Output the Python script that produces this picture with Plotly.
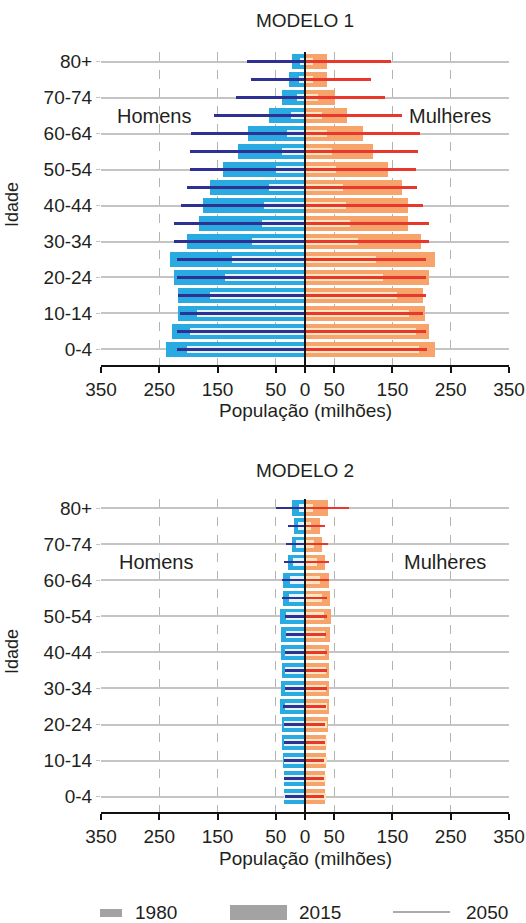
import plotly.graph_objects as go

ages = ["0-4", "5-9", "10-14", "15-19", "20-24", "25-29", "30-34", "35-39", "40-44",
        "45-49", "50-54", "55-59", "60-64", "65-69", "70-74", "75-79", "80+"]
tick_ages = ["0-4", "10-14", "20-24", "30-34", "40-44", "50-54", "60-64", "70-74", "80+"]
x_ticks = [-350, -250, -150, -50, 0, 50, 150, 250, 350]
x_ticktext = ["350", "250", "150", "50", "0", "50", "150", "250", "350"]

# MODELO 1 (values in millions, from 0-4 up to 80+)
m1_men_1980 = [203, 197, 186, 163, 137, 125, 91, 74, 70, 62, 50, 40, 31, 24, 14, 10, 8]
m1_men_2015 = [238, 229, 218, 218, 224, 231, 203, 182, 175, 163, 140, 115, 97, 62, 40, 27, 22]
m1_men_2050 = [219, 219, 215, 218, 219, 220, 224, 225, 213, 202, 197, 197, 195, 156, 118, 93, 100]
m1_wom_1980 = [195, 190, 179, 158, 133, 122, 91, 78, 71, 65, 53, 46, 38, 30, 22, 13, 13]
m1_wom_2015 = [223, 212, 206, 203, 212, 223, 199, 177, 177, 166, 143, 117, 99, 72, 51, 38, 38]
m1_wom_2050 = [209, 207, 203, 207, 207, 207, 212, 212, 203, 193, 190, 194, 197, 166, 137, 113, 147]

# MODELO 2
m2_men_1980 = [36, 36, 36, 36, 36, 35, 35, 34, 34, 33, 32, 28, 25, 20, 15, 12, 10]
m2_men_2015 = [36, 36, 37, 39, 40, 43, 42, 40, 42, 42, 43, 38, 38, 30, 23, 19, 22]
m2_men_2050 = [35, 36, 36, 36, 36, 37, 35, 34, 34, 33, 34, 39, 40, 36, 33, 29, 49]
m2_wom_1980 = [36, 36, 37, 37, 37, 37, 36, 36, 35, 34, 33, 30, 26, 21, 16, 10, 13]
m2_wom_2015 = [34, 35, 36, 36, 39, 41, 42, 41, 42, 43, 45, 43, 42, 35, 29, 26, 39]
m2_wom_2050 = [33, 33, 33, 34, 35, 36, 38, 37, 37, 36, 37, 37, 41, 41, 39, 35, 76]

FONT = "Liberation Sans, Arial, sans-serif"
TXT = "#231f20"
C_MEN = {"1980": "#e2f4fc", "2015": "#29abe2", "2050": "#2e3192"}
C_WOM = {"1980": "#fde5bd", "2015": "#f7a36c", "2050": "#e8372c"}
WID = {"1980": 0.42, "2015": 0.84, "2050": 0.14}

ypos = list(range(len(ages)))
fig = go.Figure()

def add_model(men, wom, xa, ya):
    for year in ["2015", "1980", "2050"]:
        fig.add_trace(go.Bar(
            y=ypos, x=[-v for v in men[year]], orientation="h", width=WID[year],
            marker=dict(color=C_MEN[year], line=dict(width=0)),
            xaxis=xa, yaxis=ya, showlegend=False, hoverinfo="skip"))
        fig.add_trace(go.Bar(
            y=ypos, x=wom[year], orientation="h", width=WID[year],
            marker=dict(color=C_WOM[year], line=dict(width=0)),
            xaxis=xa, yaxis=ya, showlegend=False, hoverinfo="skip"))

add_model({"1980": m1_men_1980, "2015": m1_men_2015, "2050": m1_men_2050},
          {"1980": m1_wom_1980, "2015": m1_wom_2015, "2050": m1_wom_2050}, "x", "y")
add_model({"1980": m2_men_1980, "2015": m2_men_2015, "2050": m2_men_2050},
          {"1980": m2_wom_1980, "2015": m2_wom_2015, "2050": m2_wom_2050}, "x2", "y2")

xaxis_common = dict(
    range=[-350, 350], tickvals=x_ticks, ticktext=x_ticktext, automargin=False,
    showgrid=True, gridcolor="#b4b4b4", griddash="dash", gridwidth=1,
    zeroline=False, showline=True, linecolor="#111", linewidth=2,
    ticks="outside", ticklen=6, tickwidth=1.5, tickcolor="#111",
    tickfont=dict(family=FONT, size=19, color=TXT), fixedrange=True)
yaxis_common = dict(
    tickvals=[ages.index(a) for a in tick_ages], ticktext=tick_ages, automargin=False,
    showgrid=True, gridcolor="#c4c4c4", gridwidth=1.5, zeroline=False,
    showline=False, ticks="outside", ticklen=4, tickcolor="#c4c4c4",
    tickfont=dict(family=FONT, size=19, color=TXT), fixedrange=True)

fig.update_layout(
    width=526, height=923, autosize=False, paper_bgcolor="white", plot_bgcolor="white",
    margin=dict(l=101, r=17, t=52, b=111),
    barmode="overlay", bargap=0,
    xaxis=dict(domain=[0, 1], anchor="y", **xaxis_common),
    yaxis=dict(domain=[0.588, 1.0], anchor="x", range=[-0.873, 16.54], **yaxis_common),
    xaxis2=dict(domain=[0, 1], anchor="y2", **xaxis_common),
    yaxis2=dict(domain=[0.0, 0.4118], anchor="x2", range=[-0.85, 16.5], **yaxis_common),
    font=dict(family=FONT, color=TXT),
)

# zero lines above bars
for xr, yr in [("x", "y domain"), ("x2", "y2 domain")]:
    fig.add_shape(type="line", xref=xr, yref=yr, x0=0, x1=0, y0=0, y1=1,
                  line=dict(color="#111", width=2), layer="above")

ann = []
def text(x, y, s, size=19, xref="paper", yref="paper", **kw):
    ann.append(dict(x=x, y=y, xref=xref, yref=yref, text=s, showarrow=False,
                    xanchor="center", yanchor="middle",
                    font=dict(family=FONT, size=size, color=TXT), **kw))

def py(p):  # pixel y -> paper
    return (812 - p) / 760

def px(p):  # pixel x -> paper
    return (p - 101) / 408

text(px(305), py(20), "MODELO 1", size=19)
text(px(305), py(470), "MODELO 2", size=19)
text(px(305), py(410), "População (milhões)")
text(px(305), py(858), "População (milhões)")
text(px(12), py(205), "Idade", size=18, textangle=-90)
text(px(12), py(652), "Idade", size=18, textangle=-90)
text(-259, 13, "Homens", size=20, xref="x", yref="y")
text(249, 13, "Mulheres", size=20, xref="x", yref="y")
text(-255, 13, "Homens", size=20, xref="x2", yref="y2")
text(240, 13, "Mulheres", size=20, xref="x2", yref="y2")

# legend
fig.add_shape(type="rect", xref="paper", yref="paper", x0=px(100), x1=px(122),
              y0=py(917), y1=py(909), fillcolor="#a3a3a3", line=dict(width=0))
fig.add_shape(type="rect", xref="paper", yref="paper", x0=px(230), x1=px(287),
              y0=py(920), y1=py(905), fillcolor="#a3a3a3", line=dict(width=0))
fig.add_shape(type="line", xref="paper", yref="paper", x0=px(393), x1=px(450),
              y0=py(912), y1=py(912), line=dict(color="#8f8f8f", width=1.5))
text(px(156), py(912), "1980")
text(px(320), py(912), "2015")
text(px(487), py(912), "2050")

fig.update_layout(annotations=ann)
fig.write_html("out.html", config={"responsive": False, "displayModeBar": False},
               post_script="document.body.style.margin='0';document.body.style.overflow='hidden';")
